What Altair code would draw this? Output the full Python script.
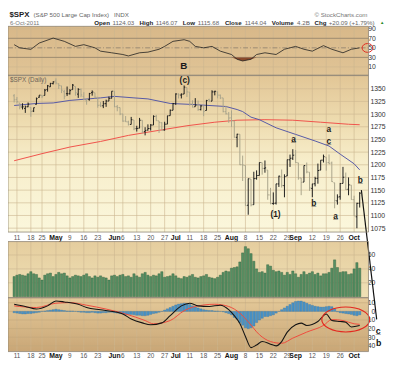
import altair as alt
import pandas as pd

F = "Liberation Sans"
W, H = 368, 347
XD = [-0.45, 125.4]

# ---------------- data ----------------
tick_i = [1, 6, 10, 15, 20, 25, 30, 36, 39, 44, 49, 54, 58, 63, 68, 73, 78, 83, 88, 93, 98, 101, 107, 112, 117, 122]
tick_lab = ['11', '18', '25', 'May', '9', '16', '23', 'Jun', '6', '13', '20', '27', 'Jul', '11', '18', '25',
            'Aug', '8', '15', '22', '29', 'Sep', '12', '19', '26', 'Oct']
months = ['May', 'Jun', 'Jul', 'Aug', 'Sep', 'Oct']

opens = [1336.2, 1329.0, 1322.0, 1314.0, 1311.1, 1314.5, 1313.4, 1306.0, 1319.1, 1333.2,
         1337.1, 1336.8, 1348.4, 1353.9, 1360.1,
         1365.2, 1359.8, 1355.9, 1344.2, 1340.2, 1340.2, 1348.3, 1354.5, 1339.4, 1348.7,
         1334.8, 1326.1, 1328.5, 1342.4, 1342.0, 1333.1, 1317.7, 1316.4, 1320.6, 1325.7, 1331.1,
         1345.2, 1314.6, 1312.9, 1300.3, 1286.3, 1284.6, 1279.6, 1288.3, 1271.3, 1272.2,
         1287.9, 1265.5, 1268.6, 1271.5, 1278.4, 1295.5, 1286.6, 1283.0, 1268.4, 1280.2, 1296.9, 1307.6,
         1320.6, 1339.6, 1337.6, 1339.6, 1352.4, 1343.3, 1319.6, 1314.5, 1317.7, 1308.9,
         1315.9, 1307.1, 1328.7, 1325.6, 1343.8, 1344.3, 1337.4, 1331.9, 1304.8, 1300.1,
         1292.6, 1286.6, 1254.3, 1260.2, 1200.3, 1198.5, 1120.2, 1171.8, 1121.3, 1172.9,
         1178.9, 1204.2, 1192.9, 1189.6, 1140.5, 1123.6, 1124.4, 1162.2, 1176.7, 1158.9,
         1177.9, 1209.8, 1213.0,
         1219.1, 1203.9, 1174.0, 1165.9, 1198.0, 1185.4, 1153.5, 1162.6, 1173.3, 1189.4,
         1209.2, 1215.0, 1204.5, 1203.6, 1164.6, 1128.8, 1136.9, 1163.3, 1175.4, 1151.7, 1159.9,
         1131.2, 1097.4, 1124.0]
highs = [1339.5, 1333.8, 1322.0, 1321.4, 1316.8, 1322.9, 1313.4, 1312.7, 1332.7, 1337.5,
         1337.6, 1349.6, 1357.5, 1361.7, 1364.6,
         1370.6, 1360.8, 1355.9, 1348.0, 1354.4, 1349.4, 1359.4, 1354.5, 1351.1, 1350.5,
         1343.3, 1330.4, 1341.8, 1346.8, 1342.0, 1333.1, 1323.7, 1325.9, 1328.5, 1334.6, 1345.2,
         1345.2, 1318.0, 1312.9, 1300.3, 1296.2, 1287.0, 1294.5, 1288.3, 1277.0, 1292.5,
         1287.9, 1274.1, 1279.8, 1280.4, 1297.6, 1298.6, 1286.6, 1283.9, 1284.9, 1296.8, 1309.2, 1322.0,
         1341.0, 1340.9, 1340.9, 1356.5, 1352.4, 1343.3, 1327.2, 1331.5, 1326.9, 1317.7,
         1315.9, 1328.1, 1330.4, 1347.0, 1346.1, 1344.3, 1338.5, 1331.9, 1316.3, 1304.2,
         1307.4, 1286.6, 1261.2, 1260.2, 1218.1, 1198.5, 1172.9, 1171.8, 1186.3, 1189.0,
         1204.5, 1204.2, 1208.5, 1189.6, 1154.5, 1145.5, 1162.4, 1178.5, 1190.7, 1181.2,
         1210.3, 1220.1, 1230.7,
         1229.3, 1203.9, 1174.0, 1198.6, 1204.4, 1185.4, 1162.5, 1176.4, 1202.4, 1209.1,
         1220.1, 1215.0, 1220.4, 1206.3, 1164.6, 1141.7, 1164.2, 1195.9, 1184.7, 1175.1, 1159.9,
         1139.0, 1125.1, 1146.1]
lows = [1322.9, 1321.1, 1309.5, 1309.2, 1302.4, 1313.7, 1294.7, 1304.0, 1319.1, 1332.3,
        1331.7, 1336.8, 1344.3, 1353.6, 1358.7,
        1358.6, 1349.5, 1341.5, 1329.2, 1335.6, 1338.6, 1348.3, 1336.4, 1332.0, 1333.4,
        1327.3, 1318.5, 1326.6, 1336.4, 1330.7, 1312.6, 1313.9, 1311.8, 1314.3, 1325.7, 1331.1,
        1313.7, 1305.6, 1297.9, 1284.9, 1284.7, 1277.4, 1279.6, 1268.3, 1265.6, 1272.2,
        1261.9, 1258.1, 1267.4, 1267.6, 1278.4, 1286.8, 1262.9, 1267.2, 1267.5, 1280.2, 1296.9, 1307.6,
        1318.2, 1330.9, 1330.9, 1339.6, 1333.7, 1316.4, 1313.3, 1314.5, 1306.5, 1307.3,
        1295.9, 1307.1, 1323.7, 1325.6, 1337.0, 1331.1, 1329.6, 1303.5, 1299.2, 1282.9,
        1274.7, 1254.0, 1234.6, 1199.5, 1168.1, 1119.3, 1101.5, 1118.0, 1121.3, 1170.7,
        1178.9, 1180.5, 1184.4, 1131.0, 1122.1, 1121.1, 1121.6, 1156.3, 1155.1, 1135.9,
        1177.9, 1195.8, 1209.4,
        1203.9, 1170.6, 1140.1, 1165.9, 1183.3, 1148.4, 1136.1, 1157.4, 1162.7, 1189.4,
        1204.5, 1188.4, 1201.3, 1166.2, 1114.2, 1121.4, 1131.1, 1163.3, 1150.4, 1139.9, 1131.3,
        1098.9, 1074.8, 1115.7]
closes = [1328.2, 1324.5, 1314.2, 1314.4, 1314.5, 1319.7, 1305.1, 1312.6, 1330.4, 1337.4,
          1335.3, 1347.2, 1355.7, 1360.5, 1363.6,
          1361.2, 1356.6, 1347.3, 1335.1, 1340.2, 1346.3, 1357.2, 1342.1, 1348.7, 1337.8,
          1329.5, 1329.0, 1340.7, 1343.6, 1333.3, 1317.4, 1316.3, 1320.5, 1325.7, 1331.1, 1345.2,
          1314.6, 1312.9, 1300.2, 1286.2, 1284.9, 1279.6, 1289.0, 1271.0, 1271.8, 1287.9,
          1265.4, 1267.6, 1271.5, 1278.4, 1295.5, 1287.1, 1283.5, 1268.5, 1280.1, 1296.7, 1307.4, 1320.6,
          1339.7, 1337.9, 1339.2, 1353.2, 1343.8, 1319.5, 1313.6, 1317.7, 1308.9, 1316.1,
          1305.4, 1326.7, 1325.8, 1343.8, 1345.0, 1337.4, 1331.9, 1304.9, 1300.7, 1292.3,
          1286.9, 1254.1, 1260.3, 1200.1, 1199.4, 1119.5, 1172.5, 1120.8, 1172.6, 1178.8,
          1204.5, 1192.8, 1193.9, 1140.6, 1123.5, 1123.8, 1162.4, 1177.6, 1159.3, 1176.8,
          1210.1, 1212.9, 1218.9,
          1204.4, 1174.0, 1165.2, 1198.6, 1185.9, 1154.2, 1162.3, 1172.9, 1188.7, 1209.1,
          1216.0, 1204.1, 1202.1, 1166.8, 1129.6, 1136.4, 1163.0, 1175.4, 1151.1, 1160.4, 1131.4,
          1099.2, 1124.0, 1144.0]
volumes = [29, 31, 32, 31, 30, 33, 36, 33, 32, 27, 24, 31, 33, 34, 29,
           32, 35, 33, 34, 30, 27, 29, 31, 30, 29, 31, 33, 29, 27, 30, 28, 30, 28, 27, 24, 30,
           31, 29, 31, 32, 29, 30, 28, 33, 30, 28, 33, 35, 31, 29, 31, 30, 33, 36, 28, 29, 30, 33,
           30, 27, 26, 29, 28, 30, 32, 28, 27, 29, 30, 32, 28, 27, 26, 28, 31, 35, 37, 36,
           41, 42, 43, 50, 63, 72, 69, 62, 51, 40, 35, 36, 34, 46, 44, 38, 36, 37, 35, 31, 35, 32, 37,
           33, 28, 32, 36, 32, 34, 36, 32, 34, 30, 33, 33, 35, 41, 53, 42, 35, 36, 36, 32, 33,
           40, 49, 41]
hist = [-1.5, -2, -2.5, -3, -3, -2.5, -2.5, -2, -1.5, -1, 0, 0.5, 1, 1.5, 2,
        2.5, 2, 1.5, 1, 0.5, 0.5, 0.5, 0, -0.5, -1, -1, -1.5, -1.5, -1, -1.5, -2, -2, -1.5, -1.5, -1, -1,
        -1.5, -2, -2.5, -3, -3.5, -3.5, -3.5, -4, -4.5, -4.5, -5, -5, -4.5, -3.5, -2.5, -2, -1, 0, 1.5, 3, 4.5, 6,
        7.5, 8.5, 9, 9.5, 9, 8, 6.5, 5, 4, 3, 2, 1.5, 1, 1, 0.5, 0.5, 0, -0.5, -1.5, -2.5,
        -4, -7, -9, -13, -16, -19, -20, -19, -17, -13, -10, -8, -6, -6, -5, -4, -2, 0, 2, 4, 6, 8, 10,
        11.5, 12, 12, 11, 9.5, 8, 7, 6, 5.5, 5, 5, 5.5, 6, 5.5, 3, -0.5, -1.5, -2, -2.5, -3, -3.5,
        -4.5, -5, -4]

rsi_i = [0, 2, 6, 9, 14, 18, 22, 25, 29, 31, 35, 39, 41, 45, 48, 52, 54, 57, 61, 63, 65, 68, 71, 74,
         78, 80, 82, 85, 87, 90, 94, 97, 101, 104, 107, 111, 114, 118, 121, 124]
rsi_v = [56.6, 50, 46.8, 60, 70.4, 63.6, 53, 56.6, 50, 43, 39.6, 36, 33, 39.6, 41, 47, 53, 63.6, 67, 63.6,
         53, 50, 53, 43, 36, 26, 22.5, 26, 36, 39.6, 36, 47, 53, 47, 43, 54.6, 47, 39.6, 47, 50]

ma50_i = [0, 8, 14, 20, 31, 36, 43, 48, 56, 64, 76, 80, 82, 85, 88, 94, 101, 108, 113, 117, 122, 124]
ma50_v = [1317, 1321, 1322, 1327, 1332, 1335, 1332, 1330, 1321, 1319, 1315, 1309, 1305, 1294, 1289,
          1273, 1260, 1247, 1237, 1221, 1202, 1190]
ma200_i = [0, 10, 20, 31, 41, 52, 62, 72, 80, 90, 100, 110, 120, 124]
ma200_v = [1208, 1222, 1235, 1246, 1258, 1268, 1277, 1284, 1288, 1289, 1288, 1284, 1280, 1279]

macd_i = [0, 4, 8, 12, 15, 18, 23, 26, 31, 36, 39, 42, 46, 49, 53, 56, 60, 63, 66, 70, 74, 77,
          79, 81, 83, 85, 87, 89, 92, 94, 96, 98, 101, 103, 105, 109, 112, 114, 117, 119, 121, 124]
macd_v = [8.3, 5.7, 2.7, 6.4, 12, 11, 8.3, 4.5, 1.9, -0.4, -3, -8.7, -13.3, -15.5, -13.3, -4.9, 6.4, 9.5,
          6.4, 5.7, 7.2, 2.0, -5, -14, -29, -42, -39, -35, -38, -40, -35, -24, -15.5, -13.6, -16.3,
          -11.7, -3, -10.6, -11.7, -12.5, -18, -16.3]
sig_i = [0, 8, 15, 20, 26, 33, 40, 47, 50, 56, 61, 65, 72, 77, 81, 84, 88, 92, 96, 100, 105, 111,
         114, 118, 122, 124]
sig_v = [6.4, 4.5, 9.5, 10.2, 7.2, 2.7, -3, -10.6, -14.4, -10.6, 0.8, 5.7, 8.3, 5.7, -2, -12, -27,
         -35, -37, -31, -24, -16.3, -9.5, -10.6, -14.4, -15]

ann_i = [60.9, 61.2, 100.3, 112.9, 112.9, 93.8, 107.5, 115.3, 124.2]
ann_p = [1395, 1368, 1251, 1270, 1247, 1102, 1125, 1099, 1170]
ann_t = ['B', '(c)', 'a', 'a', 'c', '(1)', 'b', 'a', 'b']
ann_u = [False, False, True, False, True, False, True, True, True]

side_i = [130.6, 130.8]
side_m = [-22.7, -36.4]
side_t = ['c', 'b']

slash_i = [124.6, 130.1]
slash_p = [1150, 895]

head1 = [('$SPX', True, 8, '#222'), ('(S&P 500 Large Cap Index)', False, 6.3, '#666'),
         ('INDX', False, 6.3, '#666')]
head2 = [('Open', True), ('1124.03', False), ('High', True), ('1146.07', False), ('Low', True),
         ('1115.68', False), ('Close', True), ('1144.04', False), ('Volume', True), ('4.2B', False),
         ('Chg', True), ('+20.09 (+1.79%)', False)]

# ---------------- frames ----------------
px = pd.DataFrame(dict(i=list(range(len(closes))), o=opens, h=highs, l=lows, c=closes,
                       v=volumes, hist=hist))
prev = px['c'].shift(1)
prev.iloc[0] = px['o'].iloc[0]
px['up'] = px['c'] >= prev
px['xo'] = px['i'] - 0.42
px['xc'] = px['i'] + 0.42

ticks = pd.DataFrame(dict(i=tick_i, lab=tick_lab))
ticks['month'] = ticks['lab'].isin(months)

one = alt.Data(values=[{}])

xs = alt.Scale(domain=XD, nice=False, zero=False)


def X(f='i'):
    return alt.X(f + ':Q', scale=xs, axis=None, title=None)


gridc = '#cbb68f'
lab_font = dict(labelFont=F, labelFontSize=7, labelColor='#333', ticks=False, tickSize=0,
                domain=False, grid=False, title=None, labelBaseline='middle')

# ---------- panel geometry (view px) ----------
RSI_T, RSI_B = 15, 65
PR_T, PR_B = 65, 225
VO_T, VO_B = 234.7, 292
MA_T, MA_B = 292, 347


def bg(top, bottom, stops):
    grad = alt.LinearGradient(gradient='linear', x1=0, x2=0, y1=0, y2=1,
                              stops=[alt.GradientStop(offset=o, color=c) for o, c in stops])
    return alt.Chart(one).mark_rect(fill=grad).encode(
        x=alt.value(0), x2=alt.value(W), y=alt.value(top), y2=alt.value(bottom))


def vgrid(top, bottom):
    return alt.Chart(ticks).mark_rule(color=gridc, strokeWidth=0.6).encode(
        x=X(), y=alt.value(top), y2=alt.value(bottom))


def border(top, bottom):
    return alt.Chart(one).mark_rect(fillOpacity=0, stroke='#8e8576', strokeWidth=0.8).encode(
        x=alt.value(0), x2=alt.value(W), y=alt.value(top), y2=alt.value(bottom))


backgrounds = [
    bg(RSI_T, RSI_B, [(0, '#d8b889'), (1, '#e0c496')]),
    bg(PR_T, PR_B, [(0, '#e2c696'), (0.3, '#eedcb0'), (0.55, '#f7eecb'), (1, '#fbf7dc')]),
    bg(VO_T, VO_B, [(0, '#e5cd9e'), (1, '#efe1b6')]),
    bg(MA_T, MA_B, [(0, '#e4c999'), (1, '#c9a676')]),
]
vgrids = [vgrid(RSI_T, RSI_B), vgrid(PR_T, PR_B), vgrid(VO_T, VO_B), vgrid(MA_T, MA_B)]

# ---------- RSI ----------
rsi_scale = alt.Scale(domain=[-7.6, 95], range=[RSI_B, RSI_T], nice=False, zero=False)
rsi_axis = alt.Axis(orient='right', values=[10, 30, 50, 70, 90], labelAlign='right', labelPadding=7, **lab_font)
rsi_df = pd.DataFrame(dict(i=rsi_i, r=rsi_v))


def YR(f):
    return alt.Y(f + ':Q', scale=rsi_scale, axis=rsi_axis, title=None)


rsi_group = alt.layer(
    alt.Chart(pd.DataFrame(dict(r=[10, 90]))).mark_rule(color=gridc, strokeWidth=0.6).encode(
        y=YR('r'), x=alt.value(0), x2=alt.value(W)),
    alt.Chart(pd.DataFrame(dict(r=[30, 70]))).mark_rule(color='#9c8a70', strokeWidth=1).encode(
        y=YR('r'), x=alt.value(0), x2=alt.value(W)),
    alt.Chart(pd.DataFrame(dict(r=[50]))).mark_rule(color='#8a7d6c', strokeWidth=0.8,
                                                    strokeDash=[5, 2, 1, 2]).encode(
        y=YR('r'), x=alt.value(0), x2=alt.value(W)),
    alt.Chart(rsi_df).transform_calculate(lo='min(datum.r, 30)').mark_area(color='#8a4a2c').encode(
        x=X(), y=YR('lo'), y2=alt.datum(30)),
    alt.Chart(rsi_df).mark_line(color='#1f1f1f', strokeWidth=0.8).encode(x=X(), y=YR('r')),
    alt.Chart(pd.DataFrame(dict(i=[126.8], r=[49.8]))).mark_point(
        shape='M -1 0 A 1 0.82 0 1 0 1 0 A 1 0.82 0 1 0 -1 0 Z', size=121, filled=False,
        stroke='#e02a22', strokeWidth=1, opacity=1).encode(x=X(), y=YR('r')),
)

# ---------- price ----------
pr_scale = alt.Scale(domain=[1067.3, 1376.5], range=[PR_B, PR_T], nice=False, zero=False)
pr_axis = alt.Axis(orient='right', values=list(range(1075, 1351, 25)), labelAlign='left',
                   labelPadding=1.5, format='d', **lab_font)


def YP(f):
    return alt.Y(f + ':Q', scale=pr_scale, axis=pr_axis, title=None)


bar_color = alt.condition('datum.up', alt.value('#1c1c1c'), alt.value('#a9a48b'))
ann = pd.DataFrame(dict(i=ann_i, p=ann_p, t=ann_t, u=ann_u))
big = ann[ann['t'].isin(['B'])]
mid = ann[~ann['t'].isin(['B'])]
und = ann[ann['u']]

price_group = alt.layer(
    alt.Chart(pd.DataFrame(dict(p=list(range(1075, 1376, 25))))).mark_rule(
        color=gridc, strokeWidth=0.6).encode(y=YP('p'), x=alt.value(0), x2=alt.value(W)),
    alt.Chart(pd.DataFrame(dict(i=ma200_i, p=ma200_v))).mark_line(
        color='#f0514a', strokeWidth=1).encode(x=X(), y=YP('p')),
    alt.Chart(pd.DataFrame(dict(i=ma50_i, p=ma50_v))).mark_line(
        color='#5558a6', strokeWidth=1).encode(x=X(), y=YP('p')),
    alt.Chart(px).mark_rule(strokeWidth=1).encode(x=X(), y=YP('l'), y2=alt.Y2('h:Q'), color=bar_color),
    alt.Chart(px).mark_rule(strokeWidth=1).encode(x=X('xo'), x2=alt.X2('i:Q'), y=YP('o'), color=bar_color),
    alt.Chart(px).mark_rule(strokeWidth=1).encode(x=X('i'), x2=alt.X2('xc:Q'), y=YP('c'), color=bar_color),
    alt.Chart(big).mark_text(font=F, fontSize=10, fontWeight='bold', color='#1a1a1a').encode(
        x=X(), y=YP('p'), text='t:N'),
    alt.Chart(mid).mark_text(font=F, fontSize=8.5, fontWeight='bold', color='#1a1a1a').encode(
        x=X(), y=YP('p'), text='t:N'),
    alt.Chart(und).mark_text(font=F, fontSize=8.5, fontWeight='bold', color='#1a1a1a', text='_',
                             dy=0.5).encode(x=X(), y=YP('p')),
    alt.Chart(pd.DataFrame(dict(i=slash_i, p=slash_p))).mark_line(
        color='#111', strokeWidth=1.2).encode(x=X(), y=YP('p')),
)

# ---------- volume ----------
vo_scale = alt.Scale(domain=[0, 80], range=[291, 234.2], nice=False, zero=False)
vo_axis = alt.Axis(orient='right', values=[20, 40, 60], labelAlign='right', labelPadding=6.5, **lab_font)


def YV(f):
    return alt.Y(f + ':Q', scale=vo_scale, axis=vo_axis, title=None)


vol_group = alt.layer(
    alt.Chart(pd.DataFrame(dict(v=[20, 40, 60]))).mark_rule(color=gridc, strokeWidth=0.6).encode(
        y=YV('v'), x=alt.value(0), x2=alt.value(W)),
    alt.Chart(px).mark_bar(size=2.3, color='#568f63', stroke='#2f5c3b', strokeWidth=0.4).encode(
        x=X(), y=YV('v'), y2=alt.datum(0)),
)

# ---------- MACD ----------
ma_scale = alt.Scale(domain=[-46.6, 15.9], range=[MA_B, MA_T], nice=False, zero=False)
ma_axis = alt.Axis(orient='right', values=[10, 0, -10, -20, -30, -40], labelAlign='right',
                   labelPadding=6.5, **lab_font)


def YM(f):
    return alt.Y(f + ':Q', scale=ma_scale, axis=ma_axis, title=None)


side = pd.DataFrame(dict(i=side_i, m=side_m, t=side_t))
macd_group = alt.layer(
    alt.Chart(pd.DataFrame(dict(m=[10, 0, -10, -20, -30, -40]))).mark_rule(
        color='#c3a77c', strokeWidth=0.6).encode(y=YM('m'), x=alt.value(0), x2=alt.value(W)),
    alt.Chart(px).mark_bar(size=2.4, color='#4b93c6', stroke='#2f6f9f', strokeWidth=0.3).encode(
        x=X(), y=YM('hist'), y2=alt.datum(0)),
    alt.Chart(pd.DataFrame(dict(i=sig_i, m=sig_v))).mark_line(
        color='#f04a3c', strokeWidth=1, interpolate='monotone').encode(x=X(), y=YM('m')),
    alt.Chart(pd.DataFrame(dict(i=macd_i, m=macd_v))).mark_line(
        color='#141414', strokeWidth=1.1, interpolate='monotone').encode(x=X(), y=YM('m')),
    alt.Chart(pd.DataFrame(dict(i=[119.0], m=[-9.4]))).mark_point(
        shape='M -1 0 A 1 0.52 0 1 0 1 0 A 1 0.52 0 1 0 -1 0 Z', size=2401, filled=False,
        stroke='#e3281f', strokeWidth=1.2, opacity=1).encode(x=X(), y=YM('m')),
    alt.Chart(side).mark_text(font=F, fontSize=9, fontWeight='bold', color='#111').encode(
        x=X(), y=YM('m'), text='t:N'),
    alt.Chart(side[side['t'] == 'c']).mark_text(font=F, fontSize=9, fontWeight='bold', color='#111',
                                                text='_', dy=0.5).encode(x=X(), y=YM('m')),
)


# ---------- date labels ----------
def date_labels(y):
    return [
        alt.Chart(ticks[~ticks['month']]).mark_text(font=F, fontSize=6.5, color='#555', baseline='middle').encode(
            x=X(), y=alt.value(y), text='lab:N'),
        alt.Chart(ticks[ticks['month']]).mark_text(font=F, fontSize=7, fontWeight='bold', color='#111',
                                                   baseline='middle').encode(
            x=X(), y=alt.value(y), text='lab:N'),
    ]


# ---------- header ----------
CW = {'.': .278, ' ': .278, '(': .333, ')': .333, '+': .584, '%': .889, '-': .333, '&': .722,
      'I': .278, 'i': .278, 'l': .278, 'r': .333, 'm': .889, 'w': .778, 'W': .944, 'M': .833,
      'O': .778, 'C': .722, 'H': .722, 'D': .722, 'N': .722, 'V': .667, 'L': .611, 'x': .5}


def tw(s, size, bold):
    return sum(CW.get(c, .556 if not c.isupper() else .667) for c in s) * size * (1.08 if bold else 1.02)


def txt(x, y, s, size=7, bold=False, color='#444', align='left'):
    return alt.Chart(one).mark_text(text=s, x=x, y=y, fontSize=size, font=F,
                                    fontWeight='bold' if bold else 'normal', color=color,
                                    align=align, baseline='middle')


header = []
cx = 1.5
for s, b, sz, col in head1:
    header.append(txt(cx, 3.8, s, sz, b, col))
    cx += tw(s, sz, b) + 2.5
header.append(txt(367, 3.8, '\u00a9 StockCharts.com', 6.3, False, '#777', 'right'))
header.append(txt(2, 11.4, '6-Oct-2011', 6.1, False, '#777'))
cx = 88
for k, (s, b) in enumerate(head2):
    header.append(txt(cx, 11.4, s, 6.3, b, '#222' if b else '#666'))
    cx += tw(s, 6.3, b) + (2 if b else 4.5)
header.append(txt(cx, 11.2, '\u25b2', 4.5, False, '#2a8a2a'))
header.append(txt(2, 70, '$SPX (Daily)', 6.5, False, '#6d6559'))

layers = (backgrounds + vgrids + [rsi_group, price_group, vol_group, macd_group]
          + date_labels(231) + date_labels(351.5) + header
          + [border(RSI_T, RSI_B), border(PR_T, PR_B), border(VO_T, VO_B), border(MA_T, MA_B)])

chart = alt.layer(*layers).resolve_scale(y='independent').properties(
    width=W, height=H,
    autosize=alt.AutoSizeParams(type='none'),
    padding={'left': 0, 'top': 0, 'right': 24, 'bottom': 11},
).configure_view(strokeWidth=0)

chart.save("out.html", embed_options={"renderer": "svg", "actions": False})
